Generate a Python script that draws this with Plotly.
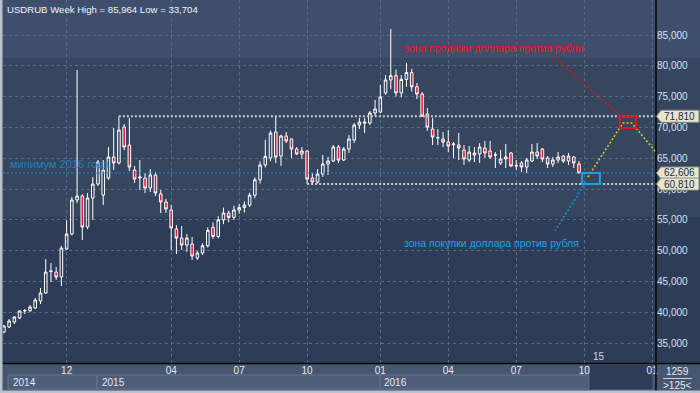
import plotly.graph_objects as go

# ---------------- data (weekly USDRUB bars) ----------------
opens = [36.80, 37.61, 38.42, 39.07, 40.21, 40.25, 40.69, 41.83, 43.13, 46.60,
         46.53, 45.72, 50.27, 52.70, 58.22, 58.87, 53.84, 58.55, 60.82, 59.03,
         61.79, 65.20, 64.23, 70.07, 67.15, 63.09, 61.79, 61.79, 60.17, 62.28,
         59.20, 57.90, 56.60, 53.51, 52.05, 50.92, 51.08, 48.81, 49.62, 50.80,
         53.80, 52.30, 55.00, 56.10, 55.40, 56.60, 57.00, 57.40, 59.00, 61.50,
         63.90, 65.04, 69.26, 65.36, 68.61, 68.12, 66.50, 65.69, 66.17, 61.79,
         61.14, 62.44, 64.06, 64.55, 66.82, 64.71, 66.50, 67.96, 70.39, 70.88,
         70.72, 72.34, 72.50, 75.59, 77.70, 78.40, 75.60, 77.80, 78.90, 76.60,
         75.42, 72.18, 69.74, 68.28, 68.12, 67.63, 67.20, 67.15, 66.34, 64.71,
         65.85, 65.69, 66.66, 66.17, 65.50, 64.23, 64.88, 65.85, 63.74, 64.23,
         63.58, 64.55, 66.01, 66.50, 65.04, 64.06, 64.71, 65.36, 64.55, 65.20,
         64.06]
highs = [37.95, 38.91, 39.40, 40.30, 40.53, 41.18, 42.32, 43.94, 48.64, 48.00,
         47.35, 50.75, 54.97, 58.71, 79.32, 59.20, 59.36, 61.95, 64.71, 64.71,
         66.82, 69.91, 71.81, 70.56, 71.53, 63.74, 64.71, 62.60, 63.25, 62.77,
         59.84, 58.40, 57.41, 54.16, 54.00, 52.70, 52.22, 50.00, 51.20, 53.80,
         54.60, 55.60, 57.00, 56.50, 57.30, 57.60, 58.00, 59.40, 61.90, 64.50,
         68.00, 69.50, 71.69, 68.80, 69.26, 68.20, 66.82, 66.82, 66.30, 62.60,
         63.25, 65.52, 65.20, 67.15, 67.15, 66.82, 68.77, 70.72, 71.53, 71.53,
         72.67, 74.45, 76.90, 78.50, 85.964, 79.40, 78.50, 80.46, 79.50, 77.20,
         75.75, 73.15, 71.53, 69.74, 69.26, 69.58, 67.63, 69.09, 67.15, 66.98,
         66.82, 67.47, 67.80, 67.80, 66.01, 66.34, 67.31, 66.01, 64.71, 64.55,
         65.04, 67.31, 67.47, 66.66, 65.36, 65.20, 66.01, 65.52, 65.85, 65.36,
         64.55]
lows = [36.60, 37.45, 38.10, 38.90, 39.72, 40.04, 40.53, 41.34, 43.00, 44.91,
        45.24, 44.26, 50.10, 52.50, 57.73, 51.73, 53.50, 54.97, 60.50, 57.41,
        61.50, 63.09, 64.00, 66.30, 62.93, 60.98, 59.84, 59.36, 59.52, 58.87,
        56.11, 56.11, 50.11, 49.46, 50.11, 49.78, 48.48, 48.50, 49.30, 50.50,
        51.90, 52.00, 54.30, 54.60, 55.00, 56.00, 56.20, 57.10, 58.50, 60.90,
        63.50, 64.50, 64.23, 63.74, 67.47, 65.04, 65.52, 64.88, 60.81, 60.81,
        60.90, 61.95, 62.28, 64.39, 64.23, 64.55, 65.85, 67.47, 69.74, 69.09,
        70.39, 71.85, 72.30, 75.30, 76.20, 75.00, 74.90, 76.60, 75.80, 74.60,
        71.69, 69.42, 67.15, 67.15, 66.82, 66.01, 65.04, 64.71, 63.90, 64.39,
        64.39, 64.23, 65.04, 64.88, 63.41, 63.90, 63.41, 63.58, 63.09, 62.77,
        62.60, 64.39, 64.88, 64.39, 63.41, 63.58, 64.23, 64.23, 63.90, 63.41,
        62.50]
closes = [37.77, 38.58, 39.23, 40.21, 40.30, 40.85, 41.99, 43.13, 46.53, 46.70,
          45.72, 50.43, 52.70, 58.22, 58.87, 53.84, 58.55, 60.82, 64.39, 63.09,
          65.20, 64.23, 69.58, 66.82, 63.58, 61.63, 61.95, 60.17, 62.28, 59.36,
          57.90, 56.76, 53.68, 52.05, 50.92, 52.05, 49.13, 49.62, 50.80, 53.30,
          52.30, 55.00, 56.10, 55.40, 56.60, 57.00, 57.40, 59.00, 61.50, 63.90,
          65.30, 69.09, 65.20, 68.61, 67.80, 66.50, 65.69, 66.17, 61.63, 61.14,
          62.44, 64.06, 64.55, 66.82, 64.71, 66.50, 68.12, 70.39, 70.88, 70.72,
          72.34, 72.99, 74.94, 77.70, 78.40, 75.60, 77.80, 78.90, 76.60, 75.42,
          71.85, 70.07, 68.45, 68.35, 67.63, 66.98, 67.30, 66.66, 64.88, 66.01,
          65.52, 66.82, 65.85, 65.20, 65.55, 64.88, 65.20, 63.74, 63.80, 63.58,
          64.71, 66.01, 65.36, 64.88, 64.06, 64.71, 65.20, 64.55, 65.36, 64.23,
          62.606]

month_tick_idx = [12, 32, 45, 58, 72, 85, 98, 111, 124]
month_tick_text = ["12", "04", "07", "10", "01", "04", "07", "10", "01"]
price_ticks = [35, 40, 45, 50, 55, 60, 65, 70, 75, 80, 85]
price_tick_text = ["35,000", "40,000", "45,000", "50,000", "55,000", "60,000",
                   "65,000", "70,000", "75,000", "80,000", "85,000"]
year_labels = ["2014", "2015", "2016"]

title_text = "USDRUB Week High = 85,964 Low = 33,704"
resistance = 71.810          # dotted level from the Feb-2015 high
resistance_start = 22
support = 60.810             # dotted level from the Oct-2015 low
support_start = 58
last_price = 62.606

sell_box = dict(x0=117.8, x1=120.9, y0=69.9, y1=71.81)
buy_box = dict(x0=110.6, x1=114.0, y0=60.82, y1=62.6)
forecast_path_x = [111.7, 118.4, 120.1, 125.5]
forecast_path_y = [61.95, 70.72, 70.72, 65.2]
sell_pointer_x = [104.6, 117.9]
sell_pointer_y = [81.8, 71.9]
buy_pointer_x = [111.3, 105.4]
buy_pointer_y = [61.1, 53.2]

# ---------------- geometry ----------------
W, H = 700, 393
ML, MR, MT, MB = 3, 44, 0, 30
PW, PH = W - ML - MR, H - MT - MB
X_RANGE = [-0.17, 124.73]
Y_RANGE = [31.77, 90.68]


def pxx(px):
    return (px - ML) / PW


def pxy(py):
    return (H - MB - py) / PH


n = len(opens)
xs = list(range(n))

fig = go.Figure()

fig.add_trace(go.Candlestick(
    x=xs, open=opens, high=highs, low=lows, close=closes,
    increasing=dict(line=dict(color="#ffffff", width=1), fillcolor="rgba(0,0,0,0)"),
    decreasing=dict(line=dict(color="#ffffff", width=1), fillcolor="#e0163c"),
    whiskerwidth=0, showlegend=False, hoverinfo="skip"))

# level lines
fig.add_trace(go.Scatter(x=[resistance_start, X_RANGE[1]], y=[resistance, resistance],
                         mode="lines", line=dict(color="#c9ccd2", width=2, dash="2px,2px"),
                         showlegend=False, hoverinfo="skip"))
fig.add_trace(go.Scatter(x=[support_start, X_RANGE[1]], y=[support, support],
                         mode="lines", line=dict(color="#c9ccd2", width=2, dash="2px,2px"),
                         showlegend=False, hoverinfo="skip"))
fig.add_trace(go.Scatter(x=[X_RANGE[0], X_RANGE[1]], y=[last_price, last_price],
                         mode="lines", line=dict(color="#1f8fd0", width=1, dash="2px,2px"),
                         showlegend=False, hoverinfo="skip"))
# forecast path (yellow)
fig.add_trace(go.Scatter(x=forecast_path_x, y=forecast_path_y, mode="lines",
                         line=dict(color="#d6d61a", width=1.5, dash="2px,2px"),
                         showlegend=False, hoverinfo="skip"))
# pointers
fig.add_trace(go.Scatter(x=sell_pointer_x, y=sell_pointer_y, mode="lines",
                         line=dict(color="#e01010", width=1.5, dash="2px,2px"),
                         showlegend=False, hoverinfo="skip"))
fig.add_trace(go.Scatter(x=buy_pointer_x, y=buy_pointer_y, mode="lines",
                         line=dict(color="#1a8fe0", width=1.5, dash="2px,2px"),
                         showlegend=False, hoverinfo="skip"))

shapes = []
# background bands
for y0, y1, col in [(0, 58, "#3f4e6d"), (58, 217, "#37465f"), (217, 363, "#2f3c58"),
                    (363, 393, "#46566f")]:
    shapes.append(dict(type="rect", xref="paper", yref="paper", x0=pxx(0), x1=pxx(700),
                       y0=pxy(y1), y1=pxy(y0), fillcolor=col, line=dict(width=0), layer="below"))
# year boxes
for x0, x1 in [(8, 97), (97, 380), (380, 589)]:
    shapes.append(dict(type="rect", xref="paper", yref="paper", x0=pxx(x0), x1=pxx(x1),
                       y0=pxy(389), y1=pxy(375), fillcolor="#4e5d79",
                       line=dict(color="#65758f", width=1), layer="below"))
# future zone in time axis
shapes.append(dict(type="rect", xref="paper", yref="paper", x0=pxx(589), x1=pxx(653),
                   y0=pxy(390), y1=pxy(364), fillcolor="#303c57",
                   line=dict(color="#56657f", width=1), layer="below"))
# frame lines
shapes.append(dict(type="line", xref="paper", yref="paper", x0=pxx(656), x1=pxx(656),
                   y0=pxy(391), y1=pxy(0), line=dict(color="#05080d", width=1.5)))
shapes.append(dict(type="line", xref="paper", yref="paper", x0=pxx(0), x1=pxx(700),
                   y0=pxy(363.5), y1=pxy(363.5), line=dict(color="#05080d", width=1.5)))
shapes.append(dict(type="line", xref="paper", yref="paper", x0=pxx(663), x1=pxx(692),
                   y0=pxy(378.5), y1=pxy(378.5), line=dict(color="#c8d2e4", width=1)))
shapes.append(dict(type="rect", xref="paper", yref="paper", x0=pxx(0), x1=pxx(2.5),
                   y0=pxy(393), y1=pxy(0), fillcolor="#b9c1cd", line=dict(width=0)))
shapes.append(dict(type="rect", xref="paper", yref="paper", x0=pxx(0), x1=pxx(700),
                   y0=pxy(393), y1=pxy(390.5), fillcolor="#b9c1cd", line=dict(width=0)))
# zone boxes
shapes.append(dict(type="rect", xref="x", yref="y", **sell_box,
                   line=dict(color="#e01818", width=2), fillcolor="rgba(0,0,0,0)"))
shapes.append(dict(type="rect", xref="x", yref="y", **buy_box,
                   line=dict(color="#19a0e8", width=2), fillcolor="rgba(0,0,0,0)"))

annotations = []
# price flags on right axis
half = 6 * (Y_RANGE[1] - Y_RANGE[0]) / PH
for val, txt in [(resistance, "71,810"), (last_price, "62,606"), (support, "60,810")]:
    shapes.append(dict(type="path", xref="paper", yref="y",
                       path=f"M {pxx(656.5)} {val} L {pxx(661)} {val + half} "
                            f"L {pxx(699)} {val + half} L {pxx(699)} {val - half} "
                            f"L {pxx(661)} {val - half} Z",
                       fillcolor="#e6e6cf", line=dict(color="#8e8e7e", width=1)))
    annotations.append(dict(xref="paper", yref="y", x=pxx(662), y=val, xanchor="left",
                            yanchor="middle", text=txt, showarrow=False,
                            font=dict(family="Liberation Sans", size=10, color="#1c2a44")))

annotations += [
    dict(xref="paper", yref="paper", x=pxx(5), y=pxy(9), xanchor="left", yanchor="middle",
         text=title_text, showarrow=False,
         font=dict(family="Liberation Sans", size=9.6, color="#f2f4f8")),
    dict(xref="x", yref="y", x=76.1, y=82.81, xanchor="left", yanchor="middle",
         text="зона продажи доллара против рубля", showarrow=False,
         font=dict(family="Liberation Sans", size=10.5, color="#ff1010")),
    dict(xref="x", yref="y", x=76.1, y=51.24, xanchor="left", yanchor="middle",
         text="зона покупки доллара против рубля", showarrow=False,
         font=dict(family="Liberation Sans", size=10.5, color="#19a3e8")),
    dict(xref="x", yref="y", x=0.8, y=64.06, xanchor="left", yanchor="middle",
         text="минимум 2016 года", showarrow=False,
         font=dict(family="Liberation Sans", size=11, color="#1f80bb")),
    dict(xref="x", yref="y", x=113.8, y=32.9, xanchor="center", yanchor="middle",
         text="15", showarrow=False,
         font=dict(family="Liberation Sans", size=10, color="#c8d4e8")),
    dict(xref="paper", yref="paper", x=pxx(677), y=pxy(372), xanchor="center",
         yanchor="middle", text="1259", showarrow=False,
         font=dict(family="Liberation Sans", size=10, color="#e4eaf4")),
    dict(xref="paper", yref="paper", x=pxx(677), y=pxy(385), xanchor="center",
         yanchor="middle", text="&gt;125&lt;", showarrow=False,
         font=dict(family="Liberation Sans", size=10, color="#e4eaf4")),
]
for label, px in zip(year_labels, [11, 100, 382]):
    annotations.append(dict(xref="paper", yref="paper", x=pxx(px), y=pxy(382),
                            xanchor="left", yanchor="middle", text=label, showarrow=False,
                            font=dict(family="Liberation Sans", size=10, color="#e4eaf4")))

fig.update_layout(
    width=W, height=H,
    margin=dict(l=ML, r=MR, t=MT, b=MB, pad=0),
    paper_bgcolor="#37465f",
    plot_bgcolor="rgba(0,0,0,0)",
    shapes=shapes,
    annotations=annotations,
    showlegend=False,
    hovermode=False,
    xaxis=dict(range=X_RANGE, rangeslider=dict(visible=False), tickmode="array",
               tickvals=month_tick_idx, ticktext=month_tick_text, showgrid=True,
               gridcolor="#5a6b88", griddash="3px,3px", gridwidth=1, zeroline=False,
               showline=False, ticks="", ticklen=0,
               tickfont=dict(family="Liberation Sans", size=10, color="#e4eaf4")),
    yaxis=dict(range=Y_RANGE, side="right", tickmode="array", tickvals=price_ticks,
               ticktext=price_tick_text, showgrid=True, gridcolor="#5a6b88",
               griddash="3px,3px", gridwidth=1, zeroline=False, showline=False, ticks="",
               tickfont=dict(family="Liberation Sans", size=10, color="#d4e0f4")),
)

fig.write_html(
    "out.html",
    config={"displayModeBar": False, "staticPlot": True},
    post_script="document.body.style.margin='0px';document.body.style.overflow='hidden';",
)
